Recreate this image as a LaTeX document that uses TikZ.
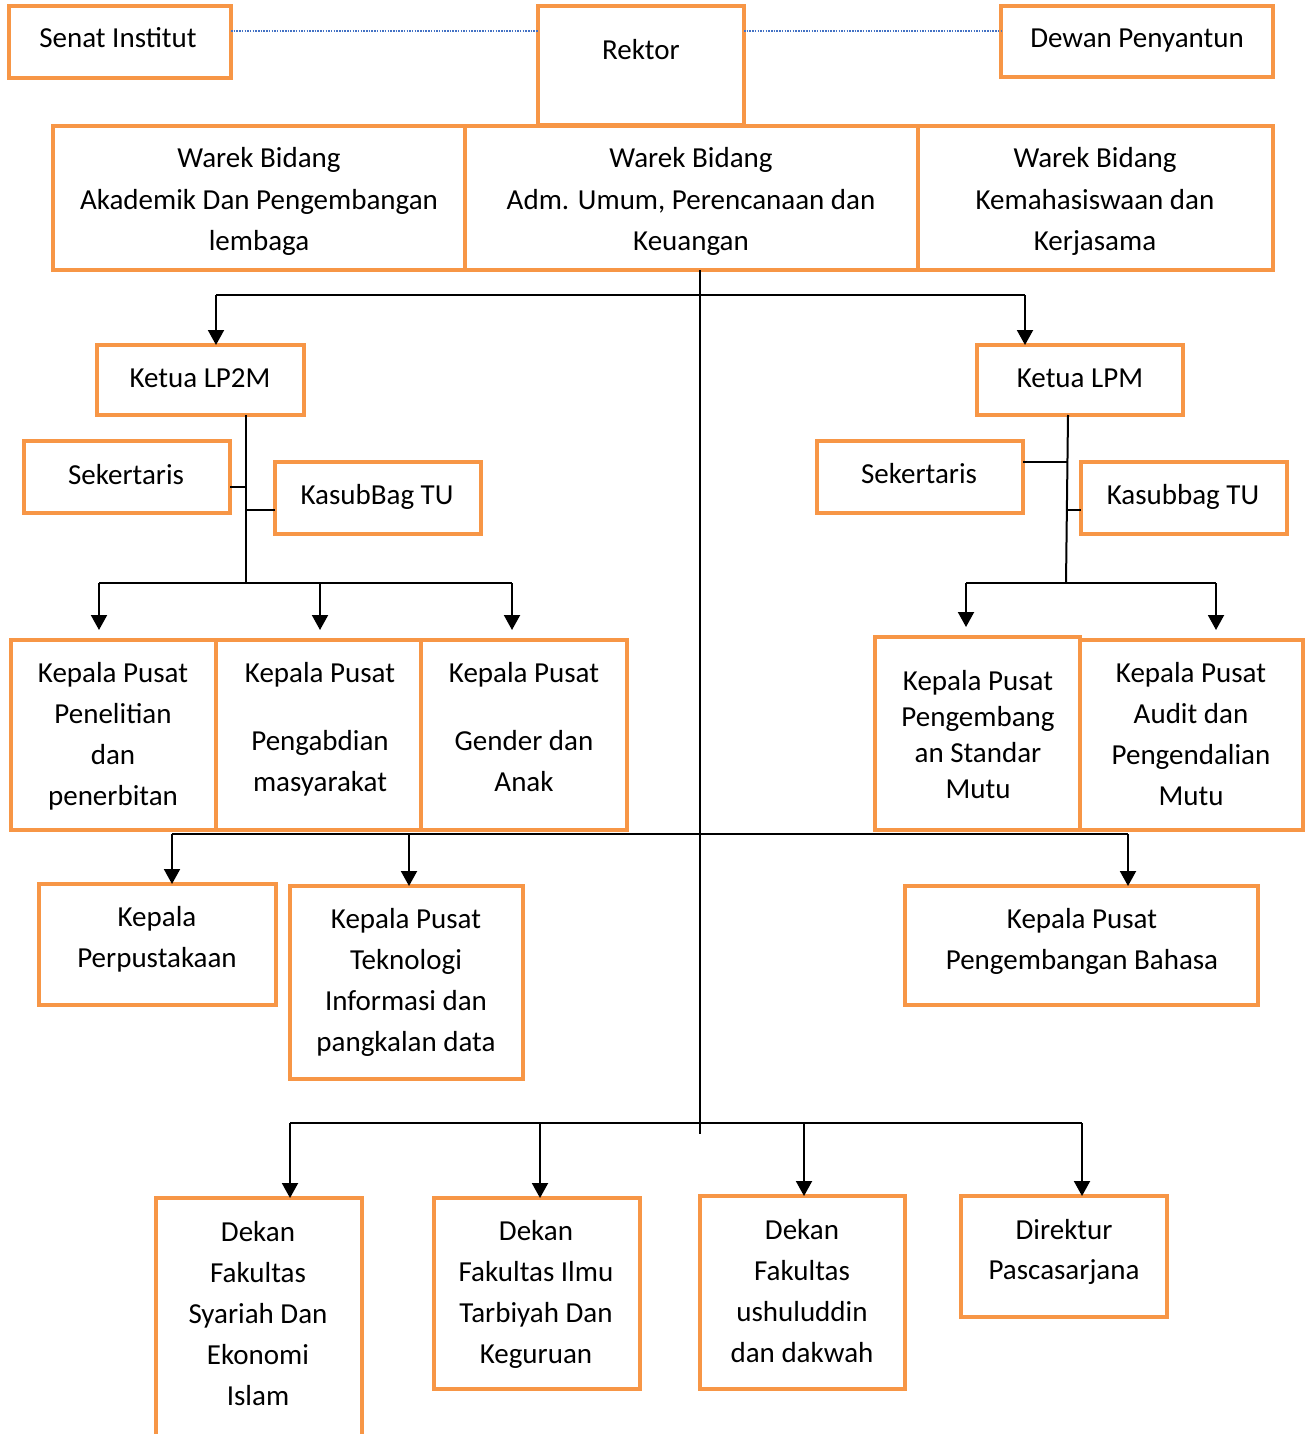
\documentclass[tikz,border=0pt]{standalone}
\usepackage{fontspec}
\setmainfont{Carlito}
\usetikzlibrary{arrows.meta}
\definecolor{org}{RGB}{247,150,70}
\definecolor{dotblue}{RGB}{68,114,196}
\newcommand\ls{\rule[-7.5pt]{0pt}{35pt}}
\newcommand\bx[5]{\node[box,minimum width={#4-#2},minimum height={#5-#3}] (#1) at ({(#2+#4)/2},{(#3+#5)/2}) {};}
\begin{document}
\begin{tikzpicture}[x=1pt,y=-1pt,
  box/.style={draw=org,line width=4pt,inner sep=0pt,outer sep=0pt,rectangle},
  txt/.style={align=center,inner sep=0pt,font=\fontsize{29}{41}\selectfont},
  conn/.style={draw=black,line width=2pt},
  arr/.style={conn,-{Triangle[width=16pt,length=15pt]}},
  dotc/.style={draw=dotblue,line width=1.5pt,dash pattern=on 1.5pt off 1.2pt}]
\useasboundingbox (0,0) rectangle (1308,1434);
\clip (0,0) rectangle (1308,1434);
\fill[white] (0,0) rectangle (1308,1434);

% boxes
\bx{senat}{9}{6}{231}{78}
\bx{rektor}{538}{6}{744}{125}
\bx{dewan}{1001}{6}{1273}{77}
\bx{w1}{53}{126}{465}{270}
\bx{w3}{918}{126}{1273}{270}
\bx{w2}{465}{126}{918}{270}
\bx{lp2m}{97}{345}{304}{415}
\bx{lpm}{977}{345}{1183}{415}
\bx{sek1}{24}{441}{230}{513}
\bx{kas1}{275}{462}{481}{534}
\bx{sek2}{817}{441}{1023}{513}
\bx{kas2}{1081}{462}{1287}{534}
\bx{p1}{11}{640}{216}{830}
\bx{p3}{421}{640}{627}{830}
\bx{p2}{216}{640}{421}{830}
\bx{p5}{1080}{640}{1303}{830}
\bx{p4}{875}{637}{1080}{830}
\bx{perp}{39}{884}{276}{1005}
\bx{ti}{290}{886}{523}{1079}
\bx{bhs}{905}{886}{1258}{1005}
\bx{d1}{156}{1198}{362}{1470}
\bx{d2}{434}{1198}{640}{1389}
\bx{d3}{700}{1196}{905}{1389}
\bx{dir}{961}{1196}{1167}{1317}

% texts
\node[txt] (senat-t) at (118,38) {\ls Senat Institut};
\node[txt] (rektor-t) at (641,50) {\ls Rektor};
\node[txt] (dewan-t) at (1137,38) {\ls Dewan Penyantun};
\node[txt] (w1-t) at (259,199) {\ls Warek Bidang\\\ls Akademik Dan Pengembangan\\\ls lembaga};
\node[txt] (w2-t) at (691,199) {\ls Warek Bidang\\\ls Adm. Umum, Perencanaan dan\\\ls Keuangan};
\node[txt] (w3-t) at (1095,199) {\ls Warek Bidang\\\ls Kemahasiswaan dan\\\ls Kerjasama};
\node[txt] (lp2m-t) at (200,377) {\ls Ketua LP2M};
\node[txt] (lpm-t) at (1080,377) {\ls Ketua LPM};
\node[txt] (sek1-t) at (126,474) {\ls Sekertaris};
\node[txt] (kas1-t) at (377,494) {\ls KasubBag TU};
\node[txt] (sek2-t) at (919,473) {\ls Sekertaris};
\node[txt] (kas2-t) at (1183,494) {\ls Kasubbag TU};
\node[txt] (p1-t) at (113,733.5) {\ls Kepala Pusat\\\ls Penelitian\\\ls dan\\\ls penerbitan};
\node[txt] (p2-t) at (320,726.5) {\ls Kepala Pusat\\[27pt]\ls Pengabdian\\\ls masyarakat};
\node[txt] (p3-t) at (524,726.5) {\ls Kepala Pusat\\[27pt]\ls Gender dan\\\ls Anak};
\node[txt,font=\fontsize{29}{35.7}\selectfont] (p4-t) at (978,734.5) {\ls Kepala Pusat\\\ls Pengembang\\\ls an Standar\\\ls Mutu};
\node[txt] (p5-t) at (1191,733.5) {\ls Kepala Pusat\\\ls Audit dan\\\ls Pengendalian\\\ls Mutu};
\node[txt] (perp-t) at (157,936.5) {\ls Kepala\\\ls Perpustakaan};
\node[txt,font=\fontsize{29}{41.3}\selectfont] (ti-t) at (406,980) {\ls Kepala Pusat\\\ls Teknologi\\\ls Informasi dan\\\ls pangkalan data};
\node[txt] (bhs-t) at (1082,938.5) {\ls Kepala Pusat\\\ls Pengembangan Bahasa};
\node[txt] (d1-t) at (258,1313) {\ls Dekan\\\ls Fakultas\\\ls Syariah Dan\\\ls Ekonomi\\\ls Islam};
\node[txt] (d2-t) at (536,1292) {\ls Dekan\\\ls Fakultas Ilmu\\\ls Tarbiyah Dan\\\ls Keguruan};
\node[txt] (d3-t) at (802,1290.5) {\ls Dekan\\\ls Fakultas\\\ls ushuluddin\\\ls dan dakwah};
\node[txt,font=\fontsize{29}{40}\selectfont] (dir-t) at (1064,1249) {\ls Direktur\\\ls Pascasarjana};

% dotted links
\coordinate (dy) at (0,31);
\draw[dotc] (senat.east |- dy) -- (rektor.west |- dy);
\draw[dotc] (rektor.east |- dy) -- (dewan.west |- dy);

% central spine
\coordinate (cx) at (700,0);
\coordinate (cBot) at (700,1134);
\draw[conn] (w2.south -| cx) -- (cBot);

% top branch
\coordinate (tL) at (216,295);
\coordinate (tR) at (1025,295);
\draw[conn] (tL) -- (tR);
\draw[arr] (tL) -- (tL |- lp2m.north);
\draw[arr] (tR) -- (tR |- lpm.north);

% LP2M subtree
\coordinate (lx) at (246,583);
\coordinate (lk1) at (246,487);
\coordinate (lk2) at (246,510);
\draw[conn] (lx |- lp2m.south) -- (lx);
\draw[conn] (sek1.east |- lk1) -- (lk1);
\draw[conn] (lk2) -- (kas1.west |- lk2);
\coordinate (bL1) at (99,583);
\coordinate (bL2) at (320,583);
\coordinate (bL3) at (512,583);
\draw[conn] (bL1) -- (bL3);
\draw[arr,shorten >=10pt] (bL1) -- (bL1 |- p1.north);
\draw[arr,shorten >=10pt] (bL2) -- (bL2 |- p2.north);
\draw[arr,shorten >=10pt] (bL3) -- (bL3 |- p3.north);

% LPM subtree
\coordinate (rxTop) at (1068,415);
\coordinate (rx) at (1066,583);
\coordinate (rk1) at (1067.4,462);
\coordinate (rk2) at (1066.9,510);
\draw[conn] (rxTop) -- (rx);
\draw[conn] (sek2.east |- rk1) -- (rk1);
\draw[conn] (rk2) -- (kas2.west |- rk2);
\coordinate (bR1) at (966,583);
\coordinate (bR2) at (1216,583);
\draw[conn] (bR1) -- (bR2);
\draw[arr,shorten >=10pt] (bR1) -- (bR1 |- p4.north);
\draw[arr,shorten >=10pt] (bR2) -- (bR2 |- p5.north);

% middle branch
\coordinate (mL1) at (172,834);
\coordinate (mL2) at (409,834);
\coordinate (mR) at (1128,834);
\draw[conn] (mL1) -- (mR);
\draw[arr] (mL1) -- (mL1 |- perp.north);
\draw[arr] (mL2) -- (mL2 |- ti.north);
\draw[arr] (mR) -- (mR |- bhs.north);

% bottom branch
\coordinate (f1) at (290,1123);
\coordinate (f2) at (540,1123);
\coordinate (f3) at (804,1123);
\coordinate (f4) at (1082,1123);
\draw[conn] (f1) -- (f4);
\draw[arr] (f1) -- (f1 |- d1.north);
\draw[arr] (f2) -- (f2 |- d2.north);
\draw[arr] (f3) -- (f3 |- d3.north);
\draw[arr] (f4) -- (f4 |- dir.north);
\end{tikzpicture}
\end{document}
